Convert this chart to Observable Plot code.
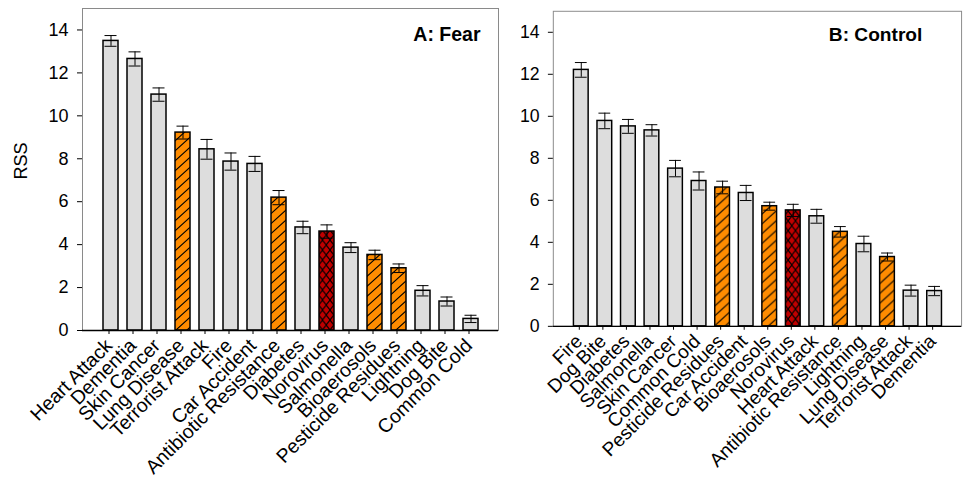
<!DOCTYPE html>
<html>
<head>
<meta charset="utf-8">
<script src="https://cdn.jsdelivr.net/npm/d3@7"></script>
<script src="https://cdn.jsdelivr.net/npm/@observablehq/plot@0.6"></script>
<style>
  html, body { margin: 0; padding: 0; background: #fff; overflow: hidden; width: 966px; height: 479px; }
  #wrap { position: relative; width: 966px; height: 479px; }
  #panelA, #panelB { position: absolute; top: 0; }
  #panelA { left: 0; }
  #panelB { left: 490px; }
</style>
</head>
<body>
<svg width="0" height="0" style="position:absolute">
  <defs>
    <pattern id="hatchOrange" patternUnits="userSpaceOnUse" width="11" height="10">
      <rect width="11" height="10" fill="#FF8C00"></rect>
      <path d="M-1.1,1 L1.1,-1 M0,10 L11,0 M9.9,11 L12.1,9" stroke="#000" stroke-width="1.1"></path>
    </pattern>
    <pattern id="crossRed" patternUnits="userSpaceOnUse" width="7.5" height="10">
      <rect width="7.5" height="10" fill="#C00000"></rect>
      <path d="M0,0 L7.5,10 M7.5,0 L0,10" stroke="#000" stroke-width="1.1"></path>
    </pattern>
  </defs>
</svg>
<div id="wrap">
  <div id="panelA"></div>
  <div id="panelB"></div>
</div>
<script>
// ---- Data ----
const fearNames = ["Heart Attack","Dementia","Skin Cancer","Lung Disease","Terrorist Attack","Fire","Car Accident","Antibiotic Resistance","Diabetes","Norovirus","Salmonella","Bioaerosols","Pesticide Residues","Lightning","Dog Bite","Common Cold"];
const fearValues = [13.49, 12.65, 10.99, 9.22, 8.44, 7.87, 7.76, 6.19, 4.80, 4.61, 3.86, 3.52, 2.90, 1.85, 1.35, 0.54];
const fearErrors = [0.25, 0.33, 0.31, 0.30, 0.46, 0.40, 0.35, 0.33, 0.29, 0.31, 0.23, 0.22, 0.20, 0.24, 0.21, 0.17];

const controlNames = ["Fire","Dog Bite","Diabetes","Salmonella","Skin Cancer","Common Cold","Pesticide Residues","Car Accident","Bioaerosols","Norovirus","Heart Attack","Antibiotic Resistance","Lightning","Lung Disease","Terrorist Attack","Dementia"];
const controlValues = [12.21, 9.78, 9.52, 9.33, 7.51, 6.92, 6.61, 6.35, 5.72, 5.52, 5.24, 4.50, 3.92, 3.30, 1.70, 1.68];
const controlErrors = [0.35, 0.37, 0.33, 0.27, 0.39, 0.43, 0.30, 0.36, 0.19, 0.29, 0.33, 0.25, 0.37, 0.19, 0.26, 0.22];

const orangeItems = ["Lung Disease","Antibiotic Resistance","Bioaerosols","Pesticide Residues"];
const redItems = ["Norovirus"];
const yTicks = [0, 2, 4, 6, 8, 10, 12, 14];
const titles = ["A: Fear", "B: Control"];
const yLabel = "RSS";

function kindOf(name) {
  if (redItems.includes(name)) return "cross";
  if (orangeItems.includes(name)) return "hatch";
  return "plain";
}

function makePanel(names, values, errors, opts) {
  const data = names.map((n, i) => ({name: n, value: values[i], err: errors[i], kind: kindOf(n)}));
  const marks = [
    Plot.frame({stroke: "#8a8a8a", strokeWidth: 1}),
    Plot.barY(data, {x: "name", y: "value", fill: "kind", stroke: "#000", strokeWidth: 1.5}),
    Plot.ruleX(data, {x: "name", y1: d => d.value - d.err, y2: d => d.value + d.err, stroke: "#000", strokeWidth: 1}),
    Plot.tickY(data, {x: "name", y: d => d.value - d.err, stroke: "#000", strokeWidth: 1, insetLeft: 1.5, insetRight: 1.5}),
    Plot.tickY(data, {x: "name", y: d => d.value + d.err, stroke: "#000", strokeWidth: 1, insetLeft: 1.5, insetRight: 1.5}),
    Plot.axisY({ticks: yTicks, tickSize: 5, tickPadding: 9, fontSize: 18, label: null, tickFormat: d => String(d)}),
    Plot.axisX({tickSize: 4, tickPadding: 8, tickRotate: -45, fontSize: 19.5, label: null, dx: -2}),
    Plot.ruleY([0], {stroke: "#000", strokeWidth: 1.3}),
    Plot.text([opts.title], {frameAnchor: "top-right", dx: opts.titleDx, dy: opts.titleDy, textAnchor: "end", fontWeight: "bold", fontSize: 19.5, fill: "#000"})
  ];
  if (opts.showYLabel) {
    marks.push(Plot.text([yLabel], {frameAnchor: "left", rotate: -90, dx: -61, dy: 10, fontSize: 18, fill: "#000"}));
  }
  return Plot.plot({
    width: opts.width,
    height: 479,
    marginLeft: opts.marginLeft,
    marginRight: opts.marginRight,
    marginTop: opts.marginTop,
    marginBottom: 479 - opts.bottomY,
    style: {fontFamily: "'Liberation Sans', Arial, sans-serif", fontSize: "18px", color: "#000", background: "transparent", overflow: "visible"},
    x: {domain: names, paddingInner: 0.39, paddingOuter: 0.695, label: null},
    y: {domain: [0, 15], label: null},
    color: {type: "ordinal", domain: ["plain", "hatch", "cross"], range: ["#DDDDDD", "url(#hatchOrange)", "url(#crossRed)"]},
    marks
  });
}

document.getElementById("panelA").appendChild(
  makePanel(fearNames, fearValues, fearErrors, {
    width: 500, marginLeft: 82, marginRight: 2, marginTop: 8, bottomY: 330,
    title: titles[0], titleDx: -18, titleDy: 19, showYLabel: true
  })
);
document.getElementById("panelB").appendChild(
  makePanel(controlNames, controlValues, controlErrors, {
    width: 485, marginLeft: 64, marginRight: 5, marginTop: 11, bottomY: 332,
    title: titles[1], titleDx: -40, titleDy: 16, showYLabel: false
  })
);
</script>
</body>
</html>
